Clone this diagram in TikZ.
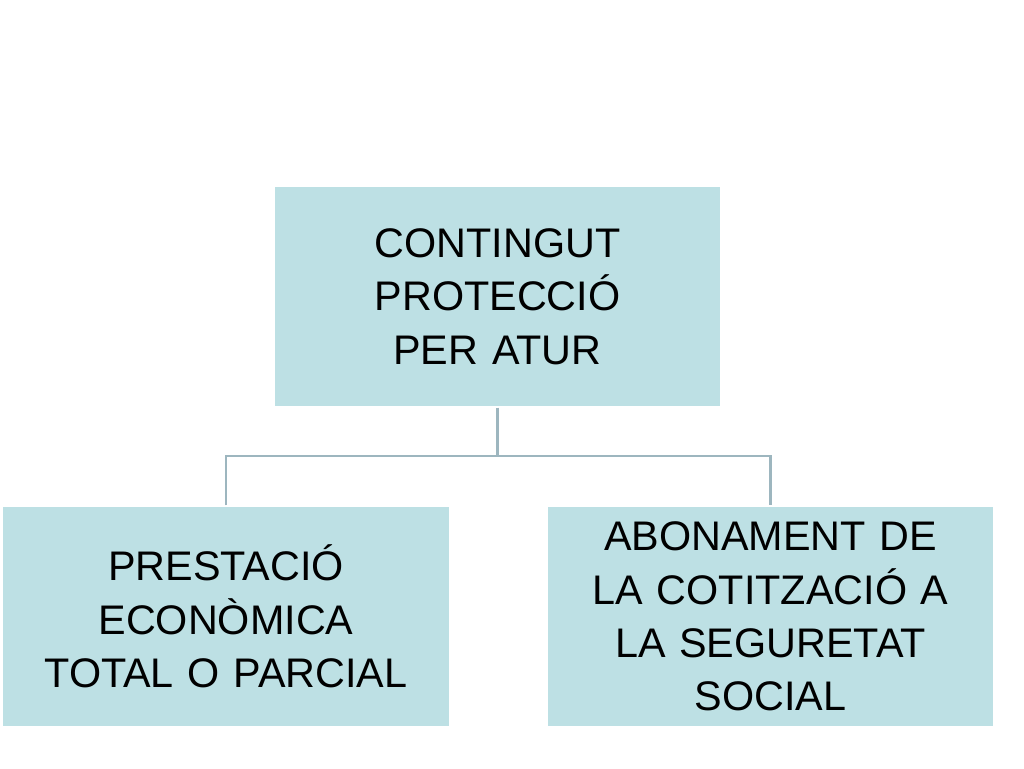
\documentclass[tikz,border=0pt]{standalone}
\usepackage{fontspec}
\setmainfont{Liberation Sans}
\definecolor{boxfill}{HTML}{BDE0E4}
\definecolor{linkcol}{HTML}{9DB6BF}
\begin{document}
\begin{tikzpicture}[x=0.75pt,y=-0.75pt,
    box/.style = {rectangle, fill=boxfill, draw=white, line width=1pt,
                  minimum width=447*0.75pt, minimum height=221*0.75pt,
                  text width=430*0.75pt, align=center, inner sep=0pt,
                  font=\fontsize{31}{40}\selectfont},
    link/.style = {draw=linkcol, line width=2pt},
                    ]
\useasboundingbox (0,0) rectangle (1024,768);
\node[box] (top)   at (497.5,296.5) {CONTINGUT\\PROTECCIÓ\\PER ATUR};
\node[box] (left)  at (226,616.5) {PRESTACIÓ\\ECONÒMICA\\TOTAL O PARCIAL};
\node[box] (right) at (770.5,616.5) {ABONAMENT DE\\LA COTITZACIÓ A\\LA SEGURETAT\\SOCIAL};
\coordinate (mid) at (497.5,456);
\draw[link] (top.south) -- (mid);
\draw[link] (left.north) -- (left.north |- mid) -- (right.north |- mid) -- (right.north);
\end{tikzpicture}
\end{document}
